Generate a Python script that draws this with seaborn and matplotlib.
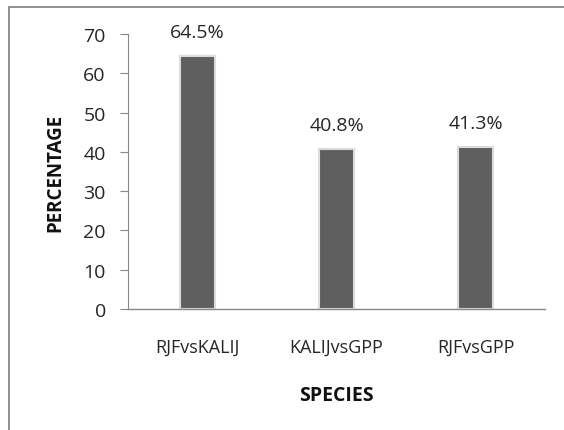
import matplotlib
matplotlib.use("Agg")
import matplotlib.pyplot as plt
import seaborn as sns
import pandas as pd
from matplotlib.lines import Line2D

categories = ["RJFvsKALIJ", "KALIJvsGPP", "RJFvsGPP"]
values = [64.5, 40.8, 41.3]
labels = ["64.5%", "40.8%", "41.3%"]
yticks = [0, 10, 20, 30, 40, 50, 60, 70]

sns.set_theme(style="white")
plt.rcParams['font.family'] = ['Open Sans', 'DejaVu Sans']

df = pd.DataFrame({"species": categories, "pct": values})

fig = plt.figure(figsize=(5.64, 4.31), dpi=100)
ax = fig.add_axes([128/564, 1-310/431, (545-128)/564, (310-35)/431])

sns.barplot(data=df, x="species", y="pct", color="#5f5f5f", width=0.245,
            saturation=1, ax=ax, edgecolor="#dcdcdc", linewidth=1.5)

for i, (v, lab) in enumerate(zip(values, labels)):
    ax.text(i, v + 6.1, lab, ha="center", va="center", fontsize=14, color="#262626")

ax.set_ylim(0, 70)
ax.set_yticks(yticks)
ax.set_yticklabels([str(t) for t in yticks], fontsize=14, color="#262626")
ax.tick_params(axis="y", length=6, width=0.8, color="#888888", left=True, pad=10)
ax.tick_params(axis="x", length=0, pad=21, labelsize=13, labelcolor="#262626")
ax.set_xlim(-0.5, 2.5)

for s in ["top", "right"]:
    ax.spines[s].set_visible(False)
ax.spines["left"].set_color("#888888")
ax.spines["bottom"].set_color("#888888")
ax.spines["left"].set_linewidth(0.8)
ax.spines["bottom"].set_linewidth(1.0)

ax.set_xlabel("SPECIES", fontsize=14, fontweight="bold", color="#111111")
ax.set_ylabel("PERCENTAGE", fontsize=13.5, fontweight="bold", color="#111111")
ax.xaxis.set_label_coords(0.5, (310-396)/275)
ax.xaxis.label.set_va("center")
ax.yaxis.set_label_coords((55-128)/417, 0.5)
ax.yaxis.label.set_va("center")

# outer frame: only top and left edges are visible in the cropped original
x0, y0 = 9/564, 1 - 8/431
fig.add_artist(Line2D([x0, 1.0], [y0, y0], transform=fig.transFigure,
                      color="#888888", linewidth=1.3))
fig.add_artist(Line2D([x0, x0], [0.0, y0], transform=fig.transFigure,
                      color="#888888", linewidth=1.3))

fig.savefig("out.png", dpi=100)
